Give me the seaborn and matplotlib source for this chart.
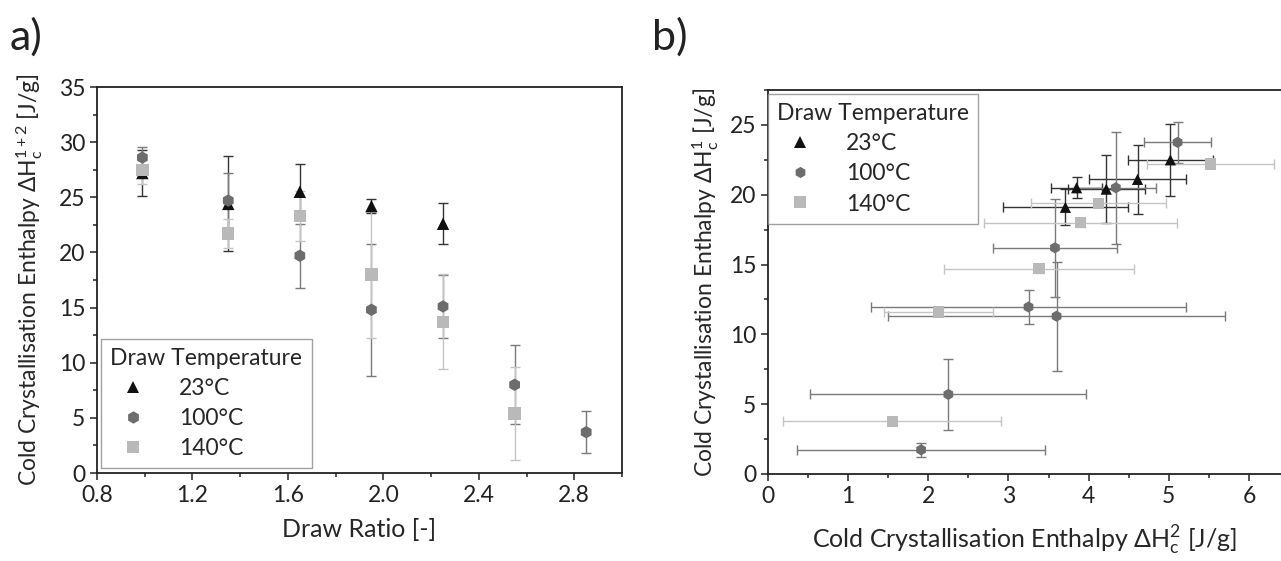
import numpy as np
import pandas as pd
import matplotlib
matplotlib.use("Agg")
import matplotlib.pyplot as plt
from matplotlib.ticker import MultipleLocator
import seaborn as sns

# ---- panel a: total cold crystallisation enthalpy vs draw ratio ----
ratio_23 = [0.99, 1.35, 1.65, 1.95, 2.25]
dh12_23 = [27.2, 24.4, 25.5, 24.2, 22.6]
err12_23 = [2.1, 4.3, 2.5, 0.6, 1.85]

ratio_100 = [0.99, 1.35, 1.65, 1.95, 2.25, 2.55, 2.85]
dh12_100 = [28.6, 24.7, 19.7, 14.8, 15.1, 8.0, 3.7]
err12_100 = [1.0, 2.5, 2.9, 6.0, 2.85, 3.6, 1.9]

ratio_140 = [0.99, 1.35, 1.65, 1.95, 2.25, 2.55]
dh12_140 = [27.5, 21.7, 23.3, 18.0, 13.7, 5.4]
err12_140 = [1.3, 1.3, 2.3, 5.8, 4.3, 4.2]

# ---- panel b: first vs second cold crystallisation peak ----
dh2_23 = [5.02, 3.85, 4.61, 4.22, 3.71]
dh1_23 = [22.5, 20.5, 21.1, 20.4, 19.1]
xerr_23 = [0.53, 0.32, 0.60, 0.48, 0.78]
yerr_23 = [2.6, 0.75, 2.45, 2.45, 1.3]

dh2_100 = [5.11, 4.34, 3.58, 3.60, 3.25, 2.25, 1.91]
dh1_100 = [23.75, 20.5, 16.2, 11.3, 11.96, 5.7, 1.73]
xerr_100 = [0.42, 0.50, 0.77, 2.10, 1.97, 1.72, 1.55]
yerr_100 = [1.45, 4.0, 3.5, 3.9, 1.25, 2.55, 0.5]

dh2_140 = [5.52, 4.12, 3.90, 3.38, 2.13, 1.55]
dh1_140 = [22.2, 19.4, 18.0, 14.7, 11.6, 3.78]
xerr_140 = [0.79, 0.84, 1.20, 1.18, 0.68, 1.36]
yerr_140 = [0.3, 0.3, 0.3, 0.3, 0.3, 0.3]

temps = ["23°C", "100°C", "140°C"]

sns.set_style("ticks")
plt.rcParams["font.family"] = ["Lato", "DejaVu Sans"]
plt.rcParams["mathtext.fontset"] = "custom"
plt.rcParams["mathtext.rm"] = "Lato"
plt.rcParams["mathtext.it"] = "Lato:italic"
plt.rcParams["mathtext.bf"] = "Lato:bold"

colors = {"23°C": "#111111", "100°C": "#6d6d6d", "140°C": "#b9b9b9"}
bar_colors = {"23°C": "#333333", "100°C": "#7a7a7a", "140°C": "#c4c4c4"}
markers = {"23°C": "^", "100°C": "h", "140°C": "s"}

TICK_FS = 16.5
XLABEL_FS = 18
YLABEL_FS = 16.5

df_a = pd.DataFrame({
    "ratio": ratio_23 + ratio_100 + ratio_140,
    "dh": dh12_23 + dh12_100 + dh12_140,
    "err": err12_23 + err12_100 + err12_140,
    "Draw Temperature": [temps[0]] * len(ratio_23) + [temps[1]] * len(ratio_100) + [temps[2]] * len(ratio_140),
})

df_b = pd.DataFrame({
    "dh2": dh2_23 + dh2_100 + dh2_140,
    "dh1": dh1_23 + dh1_100 + dh1_140,
    "xerr": xerr_23 + xerr_100 + xerr_140,
    "yerr": yerr_23 + yerr_100 + yerr_140,
    "Draw Temperature": [temps[0]] * len(dh2_23) + [temps[1]] * len(dh2_100) + [temps[2]] * len(dh2_140),
})

fig = plt.figure(figsize=(12.81, 5.61), dpi=100)
ax_a = fig.add_axes([97 / 1281, 88 / 561, 525 / 1281, 386 / 561])
ax_b = fig.add_axes([768 / 1281, 87 / 561, 513 / 1281, 384 / 561])


def style_axis(ax):
    ax.tick_params(axis="both", which="major", direction="out", length=5, width=1.1,
                   labelsize=TICK_FS, colors="#222222")
    ax.tick_params(axis="both", which="minor", direction="out", length=3, width=1.1, colors="#222222")
    for s in ax.spines.values():
        s.set_linewidth(1.3)
        s.set_color("#222222")


def style_legend(ax, loc, anchor):
    sns.move_legend(ax, loc, bbox_to_anchor=anchor, frameon=True, fancybox=False,
                    title="Draw Temperature", fontsize=TICK_FS, title_fontsize=TICK_FS,
                    handletextpad=1.0, labelspacing=0.4, borderpad=0.4,
                    borderaxespad=0.0, markerscale=1.0)
    leg = ax.get_legend()
    leg.get_frame().set_edgecolor("#8a8a8a")
    leg.get_frame().set_linewidth(1.0)
    leg._legend_box.align = "left"


# ---- panel a ----
for t in temps:
    sub = df_a[df_a["Draw Temperature"] == t]
    ax_a.errorbar(sub["ratio"], sub["dh"], yerr=sub["err"], fmt="none",
                  ecolor=bar_colors[t], elinewidth=1.0, capsize=3.5, capthick=1.0, zorder=2)
sns.scatterplot(data=df_a, x="ratio", y="dh", hue="Draw Temperature", style="Draw Temperature",
                palette=colors, markers=markers, hue_order=temps, style_order=temps,
                s=80, linewidth=0, ax=ax_a, zorder=3)
ax_a.set_xlim(0.8, 3.0)
ax_a.set_ylim(0, 35)
ax_a.xaxis.set_major_locator(MultipleLocator(0.4))
ax_a.xaxis.set_minor_locator(MultipleLocator(0.2))
ax_a.yaxis.set_major_locator(MultipleLocator(5))
ax_a.yaxis.set_minor_locator(MultipleLocator(2.5))
ax_a.xaxis.set_major_formatter(matplotlib.ticker.FormatStrFormatter("%.1f"))
style_axis(ax_a)
ax_a.set_xlabel("Draw Ratio [-]", fontsize=XLABEL_FS, labelpad=9)
ax_a.set_ylabel(r"Cold Crystallisation Enthalpy $\Delta\mathrm{H}_\mathrm{c}^{1+2}$ [J/g]",
                fontsize=YLABEL_FS, labelpad=10)
style_legend(ax_a, "lower left", (0.008, 0.012))

# ---- panel b ----
for t in temps:
    sub = df_b[df_b["Draw Temperature"] == t]
    ax_b.errorbar(sub["dh2"], sub["dh1"], xerr=sub["xerr"], yerr=sub["yerr"], fmt="none",
                  ecolor=bar_colors[t], elinewidth=1.0, capsize=3.5, capthick=1.0, zorder=2)
sns.scatterplot(data=df_b, x="dh2", y="dh1", hue="Draw Temperature", style="Draw Temperature",
                palette=colors, markers=markers, hue_order=temps, style_order=temps,
                s=65, linewidth=0, ax=ax_b, zorder=3)
ax_b.set_xlim(0, 6.4)
ax_b.set_ylim(0, 27.5)
ax_b.xaxis.set_major_locator(MultipleLocator(1))
ax_b.xaxis.set_minor_locator(MultipleLocator(0.5))
ax_b.yaxis.set_major_locator(MultipleLocator(5))
ax_b.yaxis.set_minor_locator(MultipleLocator(2.5))
style_axis(ax_b)
ax_b.spines["right"].set_visible(False)
ax_b.set_xlabel(r"Cold Crystallisation Enthalpy $\Delta\mathrm{H}_\mathrm{c}^{2}$ [J/g]",
                fontsize=XLABEL_FS, labelpad=12)
ax_b.set_ylabel(r"Cold Crystallisation Enthalpy $\Delta\mathrm{H}_\mathrm{c}^{1}$ [J/g]",
                fontsize=YLABEL_FS, labelpad=6)
style_legend(ax_b, "upper left", (0.0, 0.99))

# panel tags
fig.text(10 / 1281, 1 - 50 / 561, "a)", fontsize=31, color="#222222")
fig.text(652 / 1281, 1 - 50 / 561, "b)", fontsize=31, color="#222222")

fig.savefig("out.png", dpi=100)
